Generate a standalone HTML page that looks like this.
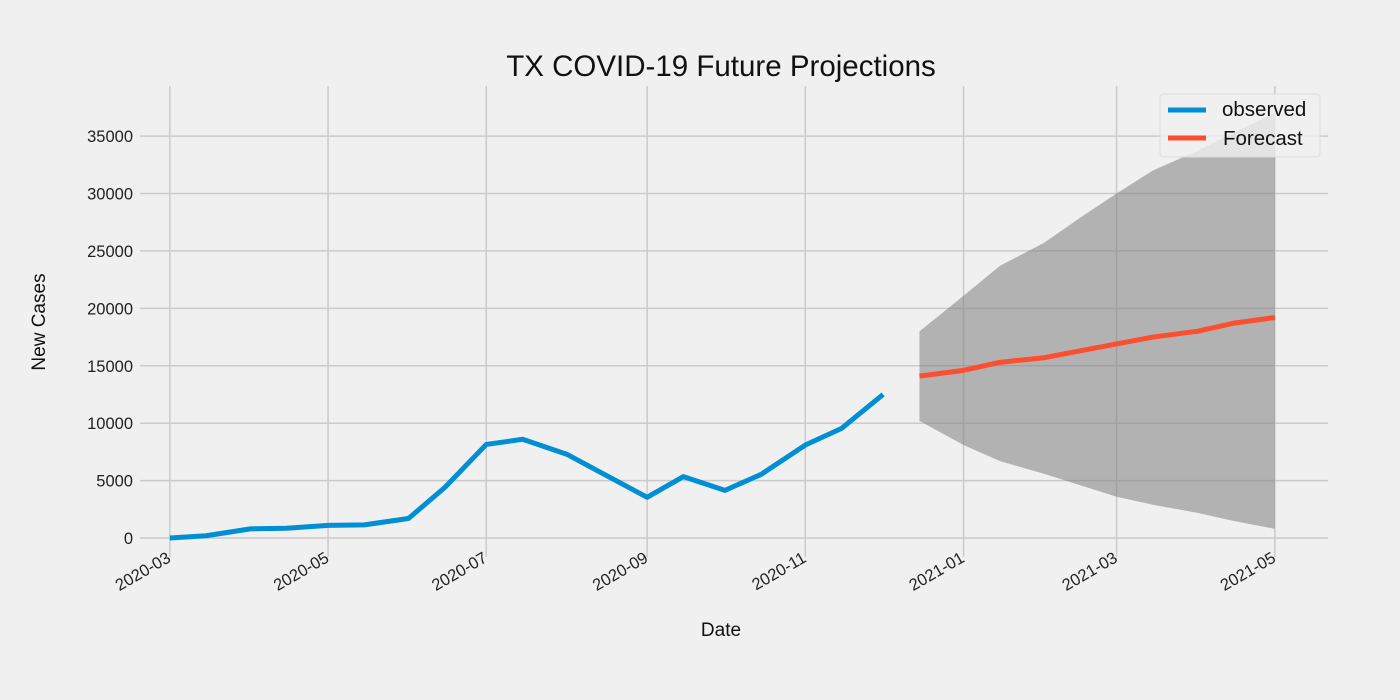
<!DOCTYPE html>
<html><head><meta charset="utf-8"><style>
body{margin:0;background:#f0f0f0;}
svg{display:block;font-family:"Liberation Sans","DejaVu Sans",sans-serif;}
</style></head><body>
<svg id="chart" width="1400" height="700" viewBox="0 0 1400 700">
<rect width="1400" height="700" fill="#f0f0f0"/>
<g id="grid"></g>
<g id="band"></g>
<g id="lines"></g>
<g id="xt"></g>
<g id="yt"></g>
<text x="721" y="76" font-size="29.5" text-anchor="middle" fill="#111">TX COVID-19 Future Projections</text>
<text x="721" y="636" font-size="19" text-anchor="middle" fill="#111">Date</text>
<text transform="translate(45,322) rotate(-90)" font-size="19" text-anchor="middle" fill="#111">New Cases</text>
<g>
<rect x="1160" y="94" width="160" height="63" rx="4" fill="#f0f0f0" fill-opacity="0.8" stroke="#dcdcdc"/>
<line x1="1168" y1="110" x2="1206" y2="110" stroke="#008fd5" stroke-width="5"/>
<text x="1222" y="116" font-size="20.5" fill="#111">observed</text>
<line x1="1168" y1="138" x2="1206" y2="138" stroke="#fc4f30" stroke-width="5"/>
<text x="1223" y="145" font-size="20.5" fill="#111">Forecast</text>
</g>
</svg>
<script>
const obsDates=["2020-03-01","2020-03-15","2020-04-01","2020-04-15","2020-05-01","2020-05-15","2020-06-01","2020-06-15","2020-07-01","2020-07-15","2020-08-01","2020-08-15","2020-09-01","2020-09-15","2020-10-01","2020-10-15","2020-11-01","2020-11-15","2020-12-01"];
const obsValues=[0,200,800,850,1100,1150,1700,4400,8150,8600,7300,5600,3550,5350,4150,5550,8100,9550,12500];
const fcDates=["2020-12-15","2021-01-01","2021-01-15","2021-02-01","2021-02-15","2021-03-01","2021-03-15","2021-04-01","2021-04-15","2021-05-01"];
const fcValues=[14100,14600,15300,15700,16300,16900,17500,18000,18700,19200];
const fcUpper=[18000,21100,23700,25700,27900,30000,32000,33700,35300,37000];
const fcLower=[10200,8100,6700,5600,4600,3600,2900,2200,1500,800];
const yTicks=[0,5000,10000,15000,20000,25000,30000,35000];
const xTickLabels=["2020-03","2020-05","2020-07","2020-09","2020-11","2021-01","2021-03","2021-05"];

const NS="http://www.w3.org/2000/svg";
const X0=140,X1=1328,Y0=557,Y1=86;
const t0=Date.UTC(2020,2,1), DAY=86400000;
const dmin=-11.5, dmax=446.5, vmin=-1650, vmax=39360;
function d(s){const p=s.split("-").map(Number);return (Date.UTC(p[0],p[1]-1,p[2]||1)-t0)/DAY;}
function sx(s){return X0+(d(s)-dmin)/(dmax-dmin)*(X1-X0);}
function sy(v){return Y0-(v-vmin)/(vmax-vmin)*(Y0-Y1);}
function mk(tag,attrs,parent){const e=document.createElementNS(NS,tag);for(const k in attrs)e.setAttribute(k,attrs[k]);document.getElementById(parent).appendChild(e);return e;}

yTicks.forEach(v=>{
  const l=mk("line",{x1:X0,x2:X1,y1:sy(v),y2:sy(v),stroke:"#cbcbcb","stroke-width":1.5},"grid");
  
  
  const t=mk("text",{x:133,y:sy(v)+6,"font-size":16.5,"text-anchor":"end",fill:"#222"},"yt");
  t.textContent=v;
  
  
});
xTickLabels.forEach(s=>{
  const x=sx(s);
  const l=mk("line",{x1:x,x2:x,y1:Y1,y2:Y0,stroke:"#cbcbcb","stroke-width":1.5},"grid");
  
  
  const t=mk("text",{transform:`translate(${x+2},${Y0+4}) rotate(-30)`,"font-size":16.5,"text-anchor":"end",fill:"#222"},"xt");
  t.textContent=s;
  
  
});
let bp=fcDates.map((s,i)=>sx(s)+","+sy(fcUpper[i]));
bp=bp.concat(fcDates.map((s,i)=>sx(s)+","+sy(fcLower[i])).reverse());
const band=mk("polygon",{points:bp.join(" "),fill:"#808080","fill-opacity":0.55},"band");


const o=mk("polyline",{points:obsDates.map((s,i)=>sx(s)+","+sy(obsValues[i])).join(" "),fill:"none",stroke:"#008fd5","stroke-width":5,"stroke-linejoin":"round"},"lines");


const f=mk("polyline",{points:fcDates.map((s,i)=>sx(s)+","+sy(fcValues[i])).join(" "),fill:"none",stroke:"#fc4f30","stroke-width":5,"stroke-linejoin":"round"},"lines");


</script>
</body></html>
